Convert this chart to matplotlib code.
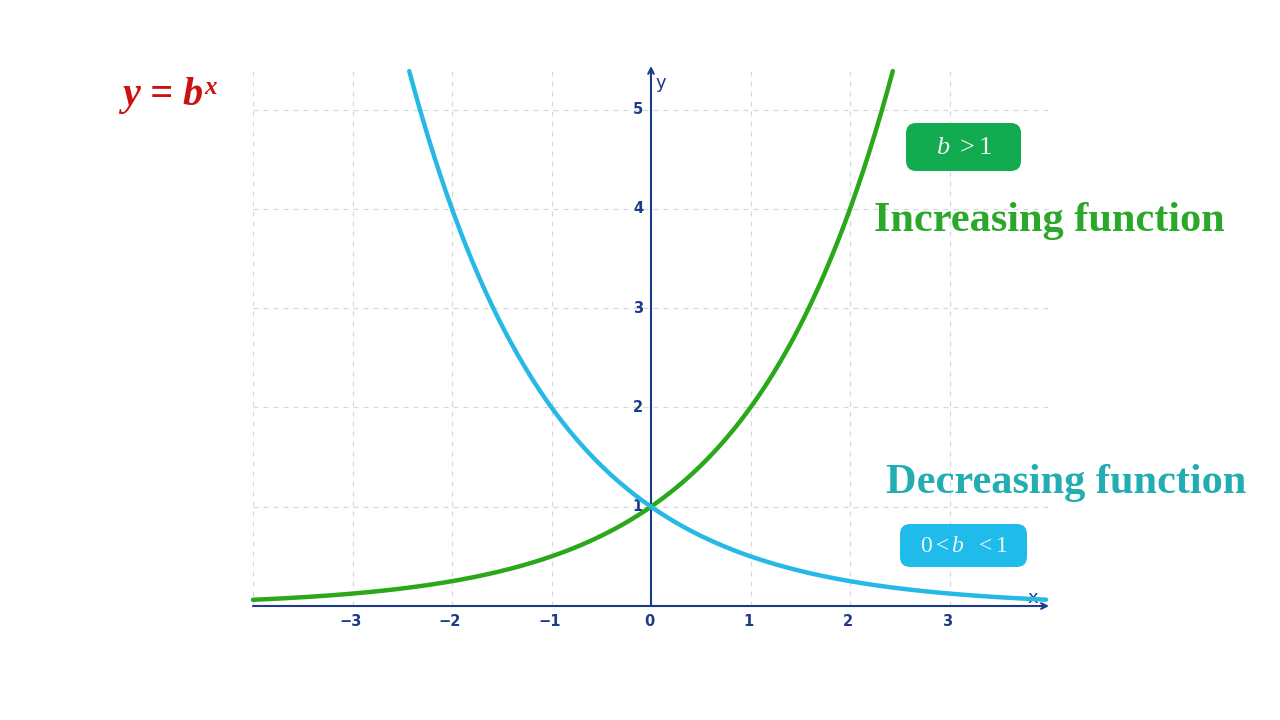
import numpy as np
import matplotlib.pyplot as plt
from matplotlib.patches import FancyBboxPatch

plt.rcParams['mathtext.fontset'] = 'custom'
plt.rcParams['mathtext.it'] = 'Liberation Serif:italic'
plt.rcParams['mathtext.rm'] = 'Liberation Serif'

# данные: основания и диапазоны x для двух кривых y = b^x
bases = [2.0, 0.5]
x_ranges = [(-4.0, 2.43), (-2.43, 3.97)]
curve_colors = ['#2aa81a', '#27b9e6']

x_ticks = [-3, -2, -1, 0, 1, 2, 3]
y_ticks = [1, 2, 3, 4, 5]

axis_color = '#1d3b86'

W, H = 1280, 720
fig = plt.figure(figsize=(12.8, 7.2), dpi=100)
ax = fig.add_axes([253 / W, 1 - 606 / H, 796 / W, 540 / H])
ax.set_xlim(-4, 4)
ax.set_ylim(0, 5.44)
for s in ax.spines.values():
    s.set_visible(False)
ax.set_xticks([])
ax.set_yticks([])

# сетка
for gx in [-4, -3, -2, -1, 1, 2, 3]:
    ax.axvline(gx, color='#d3d8dc', lw=0.9, ls=(0, (4, 4)), zorder=0)
for gy in y_ticks:
    ax.axhline(gy, color='#d3d8dc', lw=0.9, ls=(0, (4, 4)), zorder=0)

# оси со стрелками
ax.annotate('', xy=(4.0, 0), xytext=(-4, 0),
            arrowprops=dict(arrowstyle='->', color=axis_color, lw=1.5,
                            shrinkA=0, shrinkB=0), annotation_clip=False)
ax.annotate('', xy=(0, 5.44), xytext=(0, 0),
            arrowprops=dict(arrowstyle='->', color=axis_color, lw=1.5,
                            shrinkA=0, shrinkB=0), annotation_clip=False)
ax.text(0.05, 5.27, 'y', color=axis_color, fontsize=13, ha='left', va='center')
ax.text(3.84, 0.08, 'x', color=axis_color, fontsize=13, ha='center', va='center')

for t in x_ticks:
    lab = str(t).replace('-', '\u2212')
    ax.text(t - 0.02, -0.16, lab, color=axis_color, fontsize=10.5, fontweight='bold',
            ha='center', va='center')
for t in y_ticks:
    ax.text(-0.08, t, str(t), color=axis_color, fontsize=10.5, fontweight='bold',
            ha='right', va='center')

# кривые
for b, (x0, x1), c in zip(bases, x_ranges, curve_colors):
    xs = np.linspace(x0, x1, 400)
    ax.plot(xs, b ** xs, color=c, lw=3.2, solid_capstyle='round', zorder=3,
            clip_on=False)

# формула y = b^x
base_txt = fig.text(122 / W, 1 - 95 / H, 'y = b', color='#cc1111',
                    family='Liberation Serif', style='italic', fontweight='bold',
                    fontsize=29, ha='left', va='center')
fig.canvas.draw()
bb = base_txt.get_window_extent().transformed(fig.transFigure.inverted())
fig.text(bb.x1 + 1 / W, bb.y1 + 1 / H, 'x', color='#cc1111',
         family='Liberation Serif', style='italic', fontweight='bold',
         fontsize=18, ha='left', va='top')

fig.text(1049 / W, 1 - 221 / H, 'Increasing function', color='#2ba82a',
         family='Liberation Serif', fontweight='bold', fontsize=30.5,
         ha='center', va='center')
fig.text(1066 / W, 1 - 483 / H, 'Decreasing function', color='#22adb3',
         family='Liberation Serif', fontweight='bold', fontsize=30.5,
         ha='center', va='center')


def label_box(x0, y0, x1, y1, fc, txt, fs):
    box = FancyBboxPatch((x0 / W, 1 - y1 / H), (x1 - x0) / W, (y1 - y0) / H,
                         boxstyle='round,pad=0,rounding_size=0.008',
                         transform=fig.transFigure, fc=fc, ec='none',
                         mutation_aspect=W / H)
    fig.patches.append(box)
    fig.text((x0 + x1) / 2 / W, 1 - (y0 + y1) / 2 / H, txt, color='#eef8f2',
             fontsize=fs, ha='center', va='center')


label_box(906, 123, 1021, 171, '#13ab4f', r'$b\ >1$', 19)
label_box(900, 524, 1027, 567, '#1fbbeb', r'$0<b\ \ <1$', 17)

fig.savefig('out.png', dpi=100)
